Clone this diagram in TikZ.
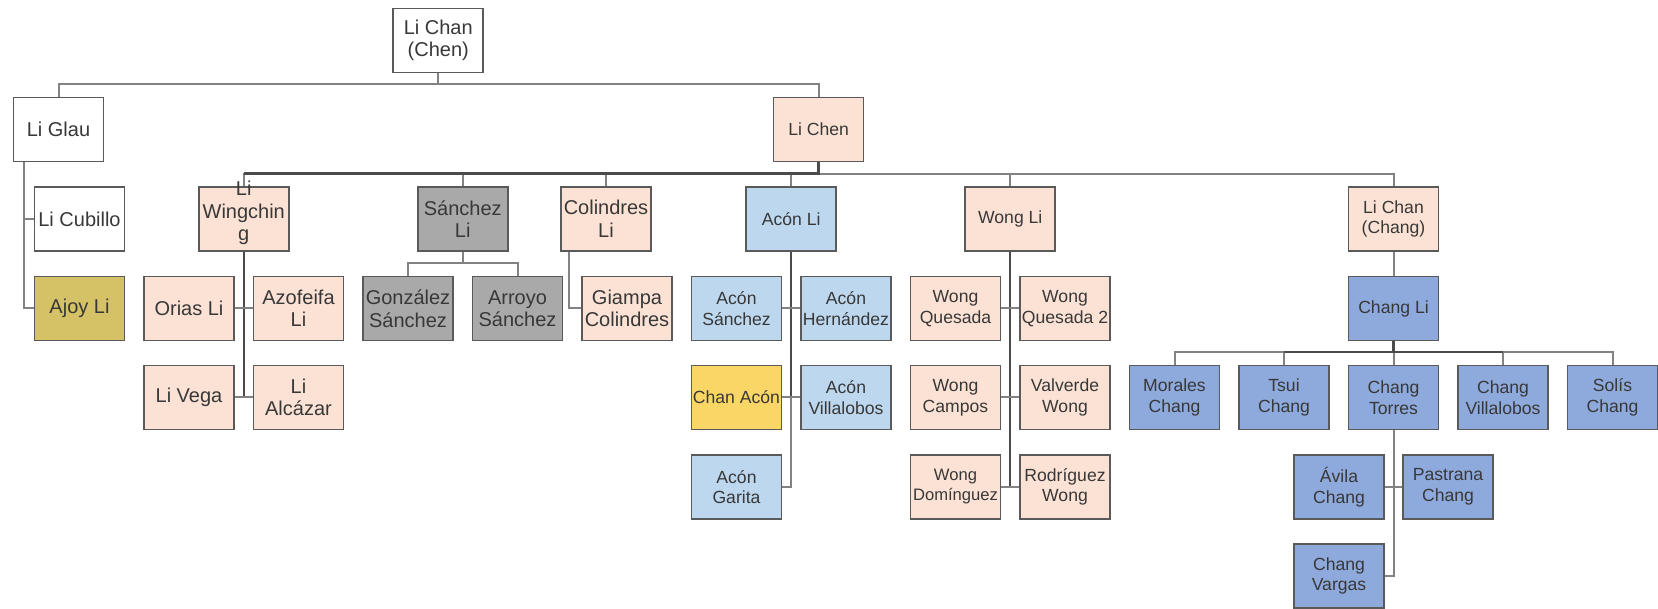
\documentclass[tikz,border=0pt]{standalone}
\usepackage{fontspec}
\setmainfont{Liberation Sans}
\usetikzlibrary{calc}

\definecolor{boxline}{HTML}{5A5A5A}
\definecolor{txt}{HTML}{383838}
\definecolor{connclr}{HTML}{828282}
\definecolor{conndark}{HTML}{4B4B4B}
\definecolor{peach}{HTML}{FBE2D5}
\definecolor{greyfill}{HTML}{A9A9A9}
\definecolor{lightblue}{HTML}{BDD7EE}
\definecolor{midblue}{HTML}{8EA9DB}
\definecolor{gold}{HTML}{FAD666}
\definecolor{khaki}{HTML}{D5C166}

\newcommand\bigtxt{\fontsize{20}{22.5}\selectfont}
\newcommand\smalltxt{\fontsize{17.6}{20.6}\selectfont}

\tikzset{
  box/.style={draw=boxline, line width=1.7pt, minimum width=90pt,
    minimum height=64pt, inner sep=0pt, align=center, text=txt, font=\bigtxt},
  sm/.style={font=\smalltxt},
  wbox/.style={box, fill=white},
  pbox/.style={box, fill=peach},
  gbox/.style={box, fill=greyfill},
  lbbox/.style={box, fill=lightblue, sm},
  bbox/.style={box, fill=midblue, sm},
  ybox/.style={box, fill=gold, sm},
  kbox/.style={box, fill=khaki},
  conn/.style={draw=connclr, line width=2pt},
  darkconn/.style={draw=conndark, line width=2.3pt},
}

\begin{document}
\begin{tikzpicture}[x=1pt,y=-1pt]
\useasboundingbox[fill=white] (0,0) rectangle (1658,609);

% generation 0 and 1
\node[wbox] (root)   at (438.25,40.5) {Li Chan\\(Chen)};
\node[wbox] (glau)   at (58.5,129.5)  {Li Glau};
\node[pbox,sm] (lichen) at (818.6,129.5) {Li Chen};

% Li Glau branch
\node[wbox] (cub)  at (79.5,219)   {Li Cubillo};
\node[kbox] (ajoy) at (79.5,308.5) {Ajoy Li};

% children of Li Chen
\node[pbox] (wing)    at (243.75,219) {\smash{\begin{tabular}{@{}c@{}}Li\\Wingchin\\g\end{tabular}}};
\node[gbox] (sanli)   at (462.75,219) {Sánchez\\Li};
\node[pbox] (col)     at (606,219)    {Colindres\\Li};
\node[lbbox] (aconli) at (791.25,219) {Acón Li};
\node[pbox,sm] (wongli)  at (1010.25,219) {Wong Li};
\node[pbox,sm] (lichang) at (1393.5,219)  {Li Chan\\(Chang)};

% Li Wingching family
\node[pbox] (orias) at (189,308.5)   {Orias Li};
\node[pbox] (azo)   at (298.5,308.5) {Azofeifa\\Li};
\node[pbox] (vega)  at (189,397.5)   {Li Vega};
\node[pbox] (alc)   at (298.5,397.5) {Li\\Alcázar};

% Sánchez Li family
\node[gbox] (gonz)   at (408,308.5)   {González\\Sánchez};
\node[gbox] (arroyo) at (517.5,308.5) {Arroyo\\Sánchez};

% Colindres Li family
\node[pbox] (giampa) at (627,308.5) {Giampa\\Colindres};

% Acón Li family
\node[lbbox] (asan)     at (736.5,308.5) {Acón\\Sánchez};
\node[lbbox] (aher)     at (846,308.5)   {Acón\\Hernández};
\node[ybox]  (chanacon) at (736.5,397.5) {Chan Acón};
\node[lbbox] (avill)    at (846,397.5)   {Acón\\Villalobos};
\node[lbbox] (garita)   at (736.5,487)   {Acón\\Garita};

% Wong Li family
\node[pbox,sm] (wq)    at (955.5,308.5) {Wong\\Quesada};
\node[pbox,sm] (wq2)   at (1065,308.5)  {Wong\\Quesada 2};
\node[pbox,sm] (wcamp) at (955.5,397.5) {Wong\\Campos};
\node[pbox,sm] (valv)  at (1065,397.5)  {Valverde\\Wong};
\node[pbox,font=\fontsize{16.6}{20}\selectfont] (wdom) at (955.5,487) {Wong\\Domínguez};
\node[pbox,sm] (rodr)  at (1065,487)    {Rodríguez\\Wong};

% Li Chan (Chang) family
\node[bbox] (changli)  at (1393.5,308.5) {Chang Li};
\node[bbox] (morales)  at (1174.5,397.5) {Morales\\Chang};
\node[bbox] (tsui)     at (1284,397.5)   {Tsui\\Chang};
\node[bbox] (ctor)     at (1393.5,397.5) {Chang\\Torres};
\node[bbox] (cvill)    at (1503,397.5)   {Chang\\Villalobos};
\node[bbox] (solis)    at (1612.5,397.5) {Solís\\Chang};
\node[bbox] (avila)    at (1339,487)     {Ávila\\Chang};
\node[bbox] (pastrana) at (1448,487)     {Pastrana\\Chang};
\node[bbox] (cvar)     at (1339,576)     {Chang\\Vargas};

% tree connectors: down, along the bus, down to the child
\foreach \c in {glau,lichen}
  \draw[conn] (root.south) |- ($(\c.north)+(0,-12.5)$) -- (\c.north);
\foreach \c in {wing,sanli,col,aconli,wongli,lichang}
  \draw[conn] (lichen.south) |- ($(\c.north)+(0,-12.5)$) -- (\c.north);
\draw[darkconn] (lichen.south) |- ($(wing.north)+(0,-12.5)$);
\foreach \c in {gonz,arroyo}
  \draw[conn] (sanli.south) |- ($(\c.north)+(0,-12.5)$) -- (\c.north);
\foreach \c in {morales,tsui,ctor,cvill,solis}
  \draw[conn] (changli.south) |- ($(\c.north)+(0,-12.5)$) -- (\c.north);
\draw[darkconn] ($(tsui.north)+(0,-12.5)$) -- ($(cvill.north)+(0,-12.5)$);
\draw[darkconn] (changli.south) -- ($(ctor.north)+(0,-12.5)$);
\draw[conn] (lichang.south) -- (changli.north);

% side branches
\draw[conn] ([xshift=-35pt]glau.south) |- (cub.west);
\draw[conn] ([xshift=-35pt]glau.south) |- (ajoy.west);
\draw[conn] ([xshift=-37pt]col.south) |- (giampa.west);

% Li Wingching column
\draw[darkconn] (wing.south) -- (wing.south |- vega.east);
\draw[conn] (orias.east) -- (azo.west);
\draw[conn] (vega.east) -- (alc.west);

% Acón Li column
\draw[darkconn] (aconli.south) -- (aconli.south |- chanacon.east);
\draw[conn] (aconli.south |- chanacon.east) |- (garita.east);
\draw[conn] (asan.east) -- (aher.west);
\draw[conn] (chanacon.east) -- (avill.west);

% Wong Li column
\draw[darkconn] (wongli.south) -- (wongli.south |- wdom.east);
\draw[conn] (wq.east) -- (wq2.west);
\draw[conn] (wcamp.east) -- (valv.west);
\draw[conn] (wdom.east) -- (rodr.west);

% Chang Torres column
\draw[conn] (ctor.south) |- (cvar.east);
\draw[conn] (avila.east) -- (pastrana.west);
\end{tikzpicture}
\end{document}
